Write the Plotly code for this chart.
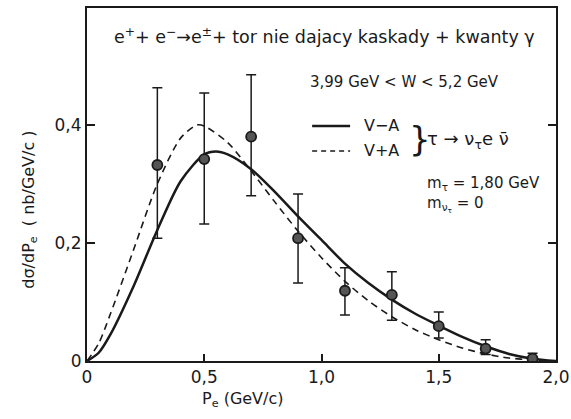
import plotly.graph_objects as go

# data points
pe_pts = [0.3, 0.5, 0.7, 0.9, 1.1, 1.3, 1.5, 1.7, 1.9]
ds_pts = [0.332, 0.342, 0.380, 0.208, 0.119, 0.112, 0.059, 0.021, 0.004]
err_up = [0.463, 0.454, 0.485, 0.283, 0.158, 0.151, 0.083, 0.036, 0.013]
err_lo = [0.208, 0.232, 0.280, 0.132, 0.078, 0.069, 0.039, 0.011, 0.000]

# theory curves
pe_curve = [0, 0.05, 0.1, 0.2, 0.3, 0.4, 0.5, 0.55, 0.6, 0.7, 0.8, 0.9, 1.0, 1.1, 1.2, 1.3, 1.4, 1.5, 1.6, 1.7, 1.8, 1.9, 2.0]
v_minus_a = [0, 0.014, 0.045, 0.128, 0.222, 0.305, 0.350, 0.355, 0.350, 0.325, 0.287, 0.245, 0.205, 0.165, 0.132, 0.104, 0.080, 0.060, 0.041, 0.025, 0.012, 0.004, 0]
pe_curve2 = [0, 0.05, 0.1, 0.2, 0.3, 0.4, 0.47, 0.5, 0.6, 0.7, 0.8, 0.9, 1.0, 1.1, 1.2, 1.3, 1.4, 1.5, 1.6, 1.7, 1.8, 1.9, 2.0]
v_plus_a = [0, 0.03, 0.08, 0.19, 0.30, 0.378, 0.400, 0.398, 0.370, 0.322, 0.270, 0.220, 0.175, 0.135, 0.102, 0.075, 0.053, 0.036, 0.022, 0.012, 0.005, 0.002, 0]

x_ticks = [0, 0.5, 1.0, 1.5, 2.0]
x_tick_labels = ["0", "0,5", "1,0", "1,5", "2,0"]
y_ticks = [0, 0.2, 0.4]
y_tick_labels = ["0", "0,2", "0,4"]

ink = "#1a1a1a"
font = "DejaVu Sans"

fig = go.Figure()
fig.add_trace(go.Scatter(x=pe_curve, y=v_minus_a, mode="lines", line=dict(color=ink, width=2.5, shape="spline", smoothing=0.8), showlegend=False))
fig.add_trace(go.Scatter(x=pe_curve2, y=v_plus_a, mode="lines", line=dict(color=ink, width=1.6, dash="7px,5px", shape="spline", smoothing=0.8), showlegend=False))
fig.add_trace(go.Scatter(
    x=pe_pts, y=ds_pts, mode="markers",
    marker=dict(size=10, color="#555", line=dict(color=ink, width=1.8)),
    error_y=dict(type="data", symmetric=False,
                 array=[u - y for u, y in zip(err_up, ds_pts)],
                 arrayminus=[y - l for y, l in zip(ds_pts, err_lo)],
                 color=ink, thickness=1.5, width=5),
    showlegend=False))

fig.update_layout(
    width=571, height=419,
    margin=dict(l=87, r=15, t=8, b=58),
    paper_bgcolor="white", plot_bgcolor="white",
    font=dict(family=font, color=ink, size=15),
    xaxis=dict(range=[0, 2.0], tickvals=x_ticks, ticktext=x_tick_labels,
               ticks="inside", ticklen=7, tickwidth=1.5, tickcolor=ink,
               showline=True, linecolor=ink, linewidth=2, mirror=True,
               showgrid=False, zeroline=False, tickfont=dict(size=17),
               automargin=False),
    yaxis=dict(range=[0, 0.598], tickvals=y_ticks, ticktext=y_tick_labels,
               ticks="inside", ticklen=8, tickwidth=1.5, tickcolor=ink,
               showline=True, linecolor=ink, linewidth=2, mirror="ticks",
               showgrid=False, zeroline=False, tickfont=dict(size=17),
               automargin=False),
)

# legend line samples
fig.add_shape(type="line", xref="paper", yref="paper", x0=0.48, x1=0.561, y0=0.666, y1=0.666, line=dict(color=ink, width=2.5))
fig.add_shape(type="line", xref="paper", yref="paper", x0=0.48, x1=0.561, y0=0.595, y1=0.595, line=dict(color=ink, width=1.6, dash="5px,4px"))

anns = [
    dict(x=0.507, y=0.922, text="e<sup>+</sup>+ e<sup>−</sup>→e<sup>±</sup>+ tor nie dajacy kaskady + kwanty γ", size=17.5, xa="center"),
    dict(x=0.471, y=0.79, text="3,99 GeV &lt; W &lt; 5,2 GeV", size=15, xa="left"),
    dict(x=0.586, y=0.666, text="V−A", size=16, xa="left"),
    dict(x=0.586, y=0.595, text="V+A", size=16, xa="left"),
    dict(x=0.683, y=0.630, text="}", size=34, xa="left"),
    dict(x=0.72, y=0.626, text="τ → ν<sub>τ</sub>e ν̄", size=18, xa="left"),
    dict(x=0.72, y=0.504, text="m<sub>τ</sub> = 1,80 GeV", size=15, xa="left"),
    dict(x=0.72, y=0.442, text="m<sub>ν<sub>τ</sub></sub> = 0", size=15, xa="left"),
]
for a in anns:
    fig.add_annotation(x=a["x"], y=a["y"], xref="paper", yref="paper", text=a["text"],
                       xanchor=a["xa"], yanchor="middle", showarrow=False,
                       font=dict(size=a["size"], family=font, color=ink))

fig.add_annotation(x=-0.122, y=0.428, xref="paper", yref="paper", textangle=-90,
                   text="dσ/dP<sub>e</sub>  ( nb/GeV/c )", showarrow=False,
                   xanchor="center", yanchor="middle",
                   font=dict(size=16, family=font, color=ink))
fig.add_annotation(x=0.333, y=-0.11, xref="paper", yref="paper",
                   text="P<sub>e</sub> (GeV/c)", showarrow=False,
                   xanchor="center", yanchor="middle",
                   font=dict(size=16, family=font, color=ink))

fig.write_html("out.html", config={"displayModeBar": False},
               post_script="document.body.style.margin='0';")
